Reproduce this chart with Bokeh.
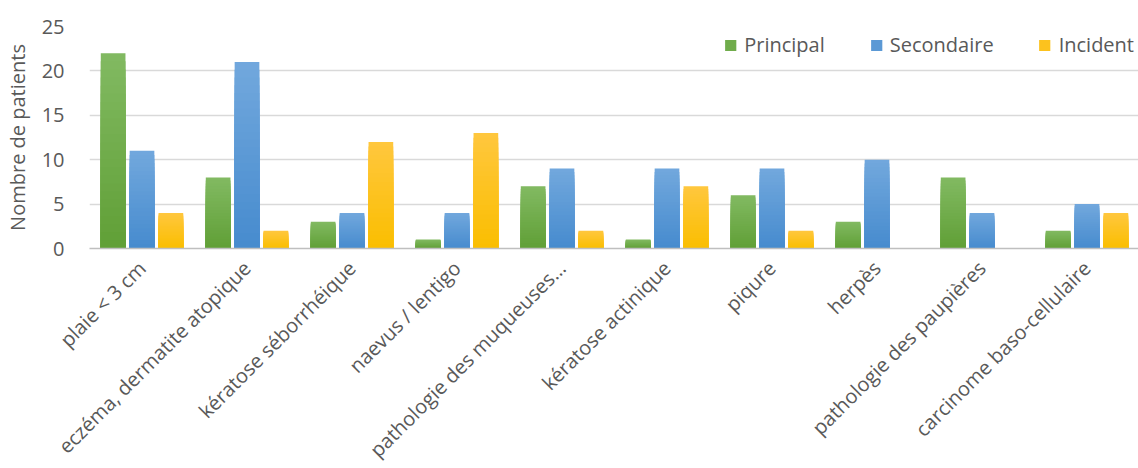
import numpy as np
from bokeh.plotting import figure
from bokeh.models import FactorRange, Legend, LegendItem, ColumnDataSource, SingleIntervalTicker
from bokeh.transform import dodge
from bokeh.embed import file_html
from bokeh.resources import INLINE

categories = ["plaie < 3 cm", "eczéma, dermatite atopique", "kératose séborrhéique",
              "naevus / lentigo", "pathologie des muqueuses…", "kératose actinique",
              "piqure", "herpès", "pathologie des paupières", "carcinome baso-cellulaire"]
series = ["Principal", "Secondaire", "Incident"]
principal = [22, 8, 3, 1, 7, 1, 6, 3, 8, 2]
secondaire = [11, 21, 4, 4, 9, 9, 9, 10, 4, 5]
incident = [4, 2, 12, 13, 2, 7, 2, 0, 0, 4]
values = [principal, secondaire, incident]
top_colors = [(130, 186, 98), (114, 168, 221), (255, 199, 62)]
bottom_colors = [(96, 159, 54), (70, 139, 206), (250, 190, 0)]
offsets = [-0.275, 0.0, 0.275]

FONT = "Open Sans"
TXT = "#595959"
FS = "20px"

p = figure(x_range=FactorRange(*categories, range_padding=0), y_range=(0, 25),
           frame_width=1050, frame_height=222, output_backend="svg", toolbar_location=None,
           min_border_left=88, min_border_right=0, min_border_top=26, min_border_bottom=220)
p.outline_line_color = None
p.background_fill_color = "white"

N = 24
legend_idx = []
renderers = []
for s, vals in enumerate(values):
    xs, bots, tops, cols = [], [], [], []
    mid_index = None
    for i, v in enumerate(vals):
        if v <= 0:
            continue
        for k in range(N):
            level = N - k
            t = (level - 0.5) / N
            c = tuple(int(round(bottom_colors[s][j] + (top_colors[s][j] - bottom_colors[s][j]) * t)) for j in range(3))
            if mid_index is None and k == N // 2:
                mid_index = len(xs)
            xs.append(categories[i])
            bots.append(0)
            tops.append(v * level / N)
            cols.append("#%02x%02x%02x" % c)
    src = ColumnDataSource(dict(x=xs, b=bots, t=tops, c=cols))
    r = p.vbar(x=dodge("x", offsets[s], range=p.x_range), bottom="b", top="t", width=0.235,
               fill_color="c", line_color=None, source=src)
    renderers.append(r)
    legend_idx.append(mid_index)

leg_items = [LegendItem(label=series[s], renderers=[renderers[s]], index=legend_idx[s]) for s in range(3)]
legend = Legend(items=leg_items, orientation="horizontal", location="top_right",
                background_fill_alpha=0, border_line_color=None, margin=5, padding=0,
                spacing=44, label_standoff=7, glyph_width=14, glyph_height=14,
                label_text_font=FONT, label_text_font_size=FS, label_text_color=TXT)
p.add_layout(legend)

p.xgrid.grid_line_color = None
p.ygrid.grid_line_color = "#d9d9d9"
p.ygrid.grid_line_width = 1.3
p.yaxis.ticker = SingleIntervalTicker(interval=5)
p.yaxis.axis_line_color = None
p.yaxis.major_tick_line_color = None
p.yaxis.minor_tick_line_color = None
p.yaxis.major_tick_out = 0
p.yaxis.major_tick_in = 0
p.yaxis.minor_tick_out = 0
p.yaxis.major_label_standoff = 25
p.yaxis.major_label_text_font = FONT
p.yaxis.major_label_text_font_size = FS
p.yaxis.major_label_text_color = TXT
p.yaxis.axis_label = "Nombre de patients"
p.yaxis.axis_label_text_font = FONT
p.yaxis.axis_label_text_font_size = FS
p.yaxis.axis_label_text_font_style = "normal"
p.yaxis.axis_label_text_color = TXT
p.yaxis.axis_label_standoff = 8

p.xaxis.axis_line_color = "#bfbfbf"
p.xaxis.axis_line_width = 1.5
p.xaxis.major_tick_line_color = None
p.xaxis.minor_tick_line_color = None
p.xaxis.major_tick_out = 0
p.xaxis.major_tick_in = 0
p.xaxis.minor_tick_out = 0
p.xaxis.major_label_orientation = np.pi / 4
p.xaxis.major_label_standoff = 16
p.xaxis.major_label_text_font = FONT
p.xaxis.major_label_text_font_size = FS
p.xaxis.major_label_text_color = TXT

open("out.html", "w").write(file_html(p, INLINE))
